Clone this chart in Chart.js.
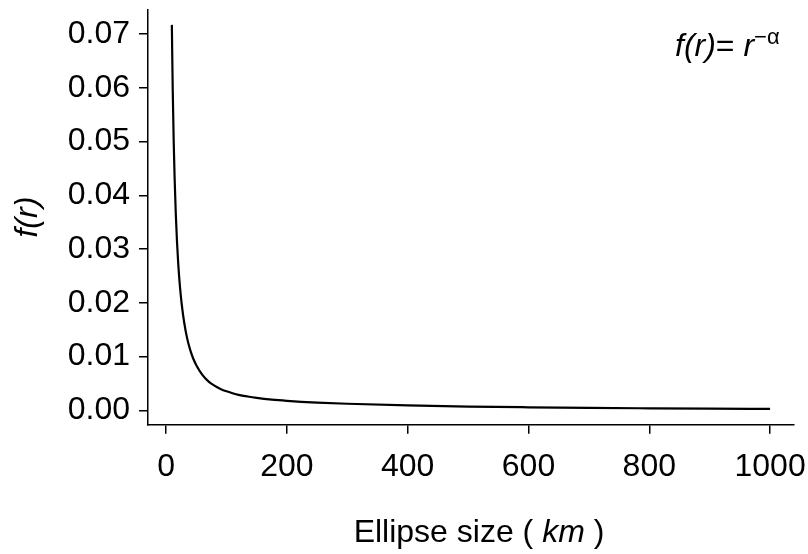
<!DOCTYPE html>
<html>
<head>
<meta charset="utf-8">
<script src="https://cdn.jsdelivr.net/npm/chart.js@4/dist/chart.umd.min.js"></script>
<style>
  html, body { margin: 0; padding: 0; background: #fff; }
  #wrap { width: 808px; height: 554px; }
</style>
</head>
<body>
<div id="wrap"><canvas id="c" width="808" height="554"></canvas></div>
<script>
// ellipse size r (km)
const rValues = [9.5, 10, 11, 12.5, 14, 16, 18, 20, 23, 26, 30, 35, 40, 45, 50, 60, 70, 80, 90, 100,
                 110, 120, 135, 150, 175, 200, 250, 300, 400, 500, 600, 700, 800, 900, 1000];
// f(r) at those sizes
const fValues = [0.0717, 0.0671, 0.0593, 0.0503, 0.0435, 0.0366, 0.0314, 0.0274, 0.0229, 0.0196,
                 0.0163, 0.0133, 0.0112, 0.0096, 0.0084, 0.0066, 0.0054, 0.0046, 0.0040, 0.00355,
                 0.0032, 0.0029, 0.00258, 0.00232, 0.00200, 0.00178, 0.00146, 0.00124, 0.00093,
                 0.00072, 0.00058, 0.00047, 0.00039, 0.00032, 0.00027];

const xTicks = [0, 200, 400, 600, 800, 1000];
const yTicks = [0.00, 0.01, 0.02, 0.03, 0.04, 0.05, 0.06, 0.07];

const FONT = '"Liberation Sans", Arial, Helvetica, sans-serif';
const SIZE = 32;

// titles and the formula label, drawn like R's plot text
const textPlugin = {
    id: 'rtext',
    afterDraw(chart) {
        const ctx = chart.ctx;
        const area = chart.chartArea;
        ctx.save();
        ctx.fillStyle = '#000';
        ctx.textBaseline = 'alphabetic';

        // x axis title: Ellipse size ( km )
        const parts = [
            { t: 'Ellipse size ( ', f: SIZE + 'px ' + FONT },
            { t: 'km', f: 'italic ' + SIZE + 'px ' + FONT },
            { t: ' )', f: SIZE + 'px ' + FONT }
        ];
        let total = 0;
        parts.forEach(p => { ctx.font = p.f; p.w = ctx.measureText(p.t).width; total += p.w; });
        let x = (area.left + area.right) / 2 + 8 - total / 2;
        ctx.textAlign = 'left';
        parts.forEach(p => { ctx.font = p.f; ctx.fillText(p.t, x, 542); x += p.w; });

        // y axis title
        ctx.save();
        ctx.translate(37, (area.top + area.bottom) / 2);
        ctx.rotate(-Math.PI / 2);
        ctx.font = 'italic ' + SIZE + 'px ' + FONT;
        ctx.textAlign = 'center';
        ctx.fillText('f(r)', 0, 0);
        ctx.restore();

        // formula f(r)= r^-alpha
        let fx = 675;
        const fy = 56;
        ctx.textAlign = 'left';
        ctx.font = 'italic ' + SIZE + 'px ' + FONT;
        ctx.fillText('f(r)', fx, fy); fx += ctx.measureText('f(r)').width;
        ctx.font = SIZE + 'px ' + FONT;
        ctx.fillText('= ', fx, fy); fx += ctx.measureText('= ').width;
        ctx.font = 'italic ' + SIZE + 'px ' + FONT;
        ctx.fillText('r', fx, fy); fx += ctx.measureText('r').width;
        ctx.font = '22px ' + FONT;
        ctx.fillText('\u2212\u03B1', fx, fy - 12);
        ctx.restore();
    }
};

new Chart(document.getElementById('c'), {
    type: 'scatter',
    data: {
        datasets: [{
            data: rValues.map((r, i) => ({ x: r, y: fValues[i] })),
            showLine: true,
            borderColor: '#000',
            borderWidth: 2.2,
            pointRadius: 0,
            cubicInterpolationMode: 'monotone',
            fill: false
        }]
    },
    options: {
        responsive: false,
        animation: false,
        layout: { padding: { top: 9.5, right: 14, left: 0, bottom: 0 } },
        plugins: { legend: { display: false }, tooltip: { enabled: false } },
        scales: {
            x: {
                type: 'linear',
                min: -30,
                max: 1039.6,
                afterBuildTicks: s => { s.ticks = xTicks.map(v => ({ value: v })); },
                afterFit: s => { s.height = 129.3; s.paddingLeft = 0; s.paddingRight = 0; },
                grid: { drawOnChartArea: false, drawTicks: true, tickLength: 9, color: '#000', lineWidth: 1.5 },
                border: { display: true, color: '#000', width: 1.5 },
                ticks: { color: '#000', font: { family: FONT, size: SIZE }, padding: 14, maxRotation: 0,
                         callback: v => String(v) }
            },
            y: {
                min: -0.00266,
                max: 0.07456,
                afterBuildTicks: s => { s.ticks = yTicks.map(v => ({ value: v })); },
                afterFit: s => { s.width = 148; s.paddingTop = 0; s.paddingBottom = 0; },
                grid: { drawOnChartArea: false, drawTicks: true, tickLength: 9, color: '#000', lineWidth: 1.5 },
                border: { display: true, color: '#000', width: 1.5 },
                ticks: { color: '#000', font: { family: FONT, size: SIZE }, padding: 9,
                         callback: v => v.toFixed(2) }
            }
        }
    },
    plugins: [textPlugin]
});
</script>
</body>
</html>
